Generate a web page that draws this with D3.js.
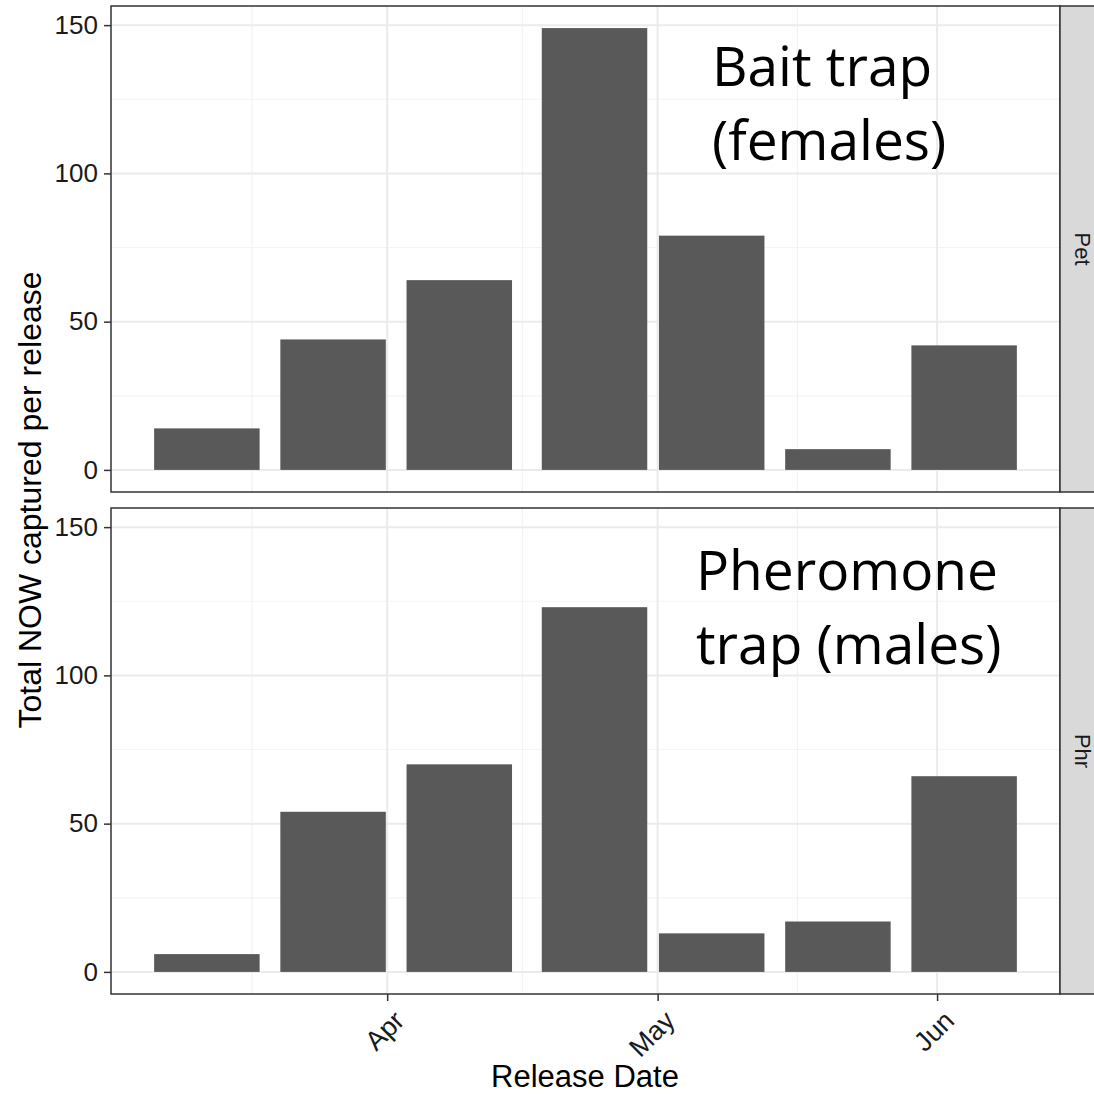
<!DOCTYPE html>
<html>
<head>
<meta charset="utf-8">
<script src="https://cdn.jsdelivr.net/npm/d3@7"></script>
<style>
  body { margin: 0; background: #fff; }
  svg { display: block; }
</style>
</head>
<body>
<svg width="1094" height="1094"></svg>
<script>
// release dates and counts, one bar per release
const releaseDates = ['2017-03-12', '2017-03-26', '2017-04-09', '2017-04-24', '2017-05-07', '2017-05-21', '2017-06-04'];
const petCounts = [14, 44, 64, 149, 79, 7, 42];
const phrCounts = [6, 54, 70, 123, 13, 17, 66];
const trapNames = ['Pet', 'Phr'];
const trapLabels = [['Bait trap', '(females)'], ['Pheromone', 'trap (males)']];

const yTicks = [0, 50, 100, 150];
const yMinorTicks = [25, 75, 125];
const xTickDates = ['2017-04-01', '2017-05-01', '2017-06-01'];
const xMinorDates = ['2017-03-17', '2017-04-16', '2017-05-16T12:00'];

const parse = s => new Date(s + (s.length === 10 ? 'T00:00Z' : 'Z'));
const dates = releaseDates.map(parse);
const panels = [petCounts, phrCounts].map((counts, i) => ({
  trap: trapNames[i],
  label: trapLabels[i],
  rows: dates.map((d, j) => ({ date: d, value: counts[j] }))
}));

const svg = d3.select('svg');
const left = 111, right = 1060, stripW = 40;
const panelTops = [6, 508], panelH = 486;

// bar width = 0.9 of the smallest gap between releases
const gap = d3.min(d3.pairs(dates), ([a, b]) => b - a);
const half = gap * 0.45;
const lo = +dates[0] - half, hi = +dates[dates.length - 1] + half;
const pad = (hi - lo) * 0.05;

const x = d3.scaleUtc()
  .domain([new Date(lo - pad), new Date(hi + pad)])
  .range([left, right]);

const yMax = d3.max([...petCounts, ...phrCounts]);
const yPad = yMax * 0.05;

const axisFont = 'Liberation Sans, Arial, sans-serif';

panels.forEach((p, i) => {
  const top = panelTops[i];
  const y = d3.scaleLinear().domain([-yPad, yMax + yPad]).range([top + panelH, top]);
  const g = svg.append('g');

  // grid
  g.selectAll('.ymin').data(yMinorTicks).enter().append('line')
    .attr('x1', left).attr('x2', right)
    .attr('y1', d => y(d)).attr('y2', d => y(d))
    .attr('stroke', '#f4f4f4').attr('stroke-width', 1.2);
  g.selectAll('.xmin').data(xMinorDates.map(parse)).enter().append('line')
    .attr('x1', d => x(d)).attr('x2', d => x(d))
    .attr('y1', top).attr('y2', top + panelH)
    .attr('stroke', '#f2f2f2').attr('stroke-width', 1.2);
  g.selectAll('.ymaj').data(yTicks).enter().append('line')
    .attr('x1', left).attr('x2', right)
    .attr('y1', d => y(d)).attr('y2', d => y(d))
    .attr('stroke', '#ebebeb').attr('stroke-width', 2);
  g.selectAll('.xmaj').data(xTickDates.map(parse)).enter().append('line')
    .attr('x1', d => x(d)).attr('x2', d => x(d))
    .attr('y1', top).attr('y2', top + panelH)
    .attr('stroke', '#ebebeb').attr('stroke-width', 2);

  // bars
  g.selectAll('.bar').data(p.rows).enter().append('rect')
    .attr('x', d => x(new Date(+d.date - half)))
    .attr('width', d => x(new Date(+d.date + half)) - x(new Date(+d.date - half)))
    .attr('y', d => y(d.value))
    .attr('height', d => y(0) - y(d.value))
    .attr('fill', '#595959');

  // annotation
  const t = g.append('text')
    .attr('font-family', 'Open Sans, sans-serif')
    .attr('font-size', 55)
    .attr('fill', '#000');
  const ax = i === 0 ? 712 : 696;
  const ay = i === 0 ? 86 : 590;
  p.label.forEach((line, k) => {
    t.append('tspan').attr('x', ax).attr('y', ay + k * 74).text(line);
  });

  // panel border
  g.append('rect')
    .attr('x', left).attr('y', top)
    .attr('width', right - left).attr('height', panelH)
    .attr('fill', 'none').attr('stroke', '#333').attr('stroke-width', 1.5);

  // strip
  g.append('rect')
    .attr('x', right).attr('y', top)
    .attr('width', stripW).attr('height', panelH)
    .attr('fill', '#d9d9d9').attr('stroke', '#333').attr('stroke-width', 1.5);
  g.append('text')
    .attr('transform', `translate(${right + 15},${top + panelH / 2}) rotate(90)`)
    .attr('text-anchor', 'middle')
    .attr('font-family', axisFont).attr('font-size', 22)
    .attr('fill', '#1a1a1a')
    .text(p.trap);

  // y axis
  const yAxis = d3.axisLeft(y).tickValues(yTicks).tickSize(7).tickPadding(6);
  const ya = g.append('g').attr('transform', `translate(${left},0)`).call(yAxis);
  ya.select('.domain').remove();
  ya.selectAll('line').attr('stroke', '#333').attr('stroke-width', 1.5);
  ya.selectAll('text').attr('font-family', axisFont).attr('font-size', 26).attr('fill', '#1a1a1a');

  if (i === 1) {
    const xAxis = d3.axisBottom(x).tickValues(xTickDates.map(parse))
      .tickFormat(d3.utcFormat('%b')).tickSize(7);
    const xa = g.append('g').attr('transform', `translate(0,${top + panelH})`).call(xAxis);
    xa.select('.domain').remove();
    xa.selectAll('line').attr('stroke', '#333').attr('stroke-width', 1.5);
    xa.selectAll('text')
      .attr('font-family', axisFont).attr('font-size', 27).attr('fill', '#1a1a1a')
      .attr('text-anchor', 'end')
      .attr('y', 0).attr('dy', '0.75em')
      .attr('transform', 'translate(4,14) rotate(-45)');
  }
});

// axis titles
svg.append('text')
  .attr('transform', `translate(41,${(panelTops[0] + panelTops[1] + panelH) / 2}) rotate(-90)`)
  .attr('text-anchor', 'middle')
  .attr('font-family', axisFont).attr('font-size', 32).attr('fill', '#000')
  .text('Total NOW captured per release');

svg.append('text')
  .attr('x', 585).attr('y', 1087)
  .attr('text-anchor', 'middle')
  .attr('font-family', axisFont).attr('font-size', 31).attr('fill', '#000')
  .text('Release Date');
</script>
</body>
</html>
